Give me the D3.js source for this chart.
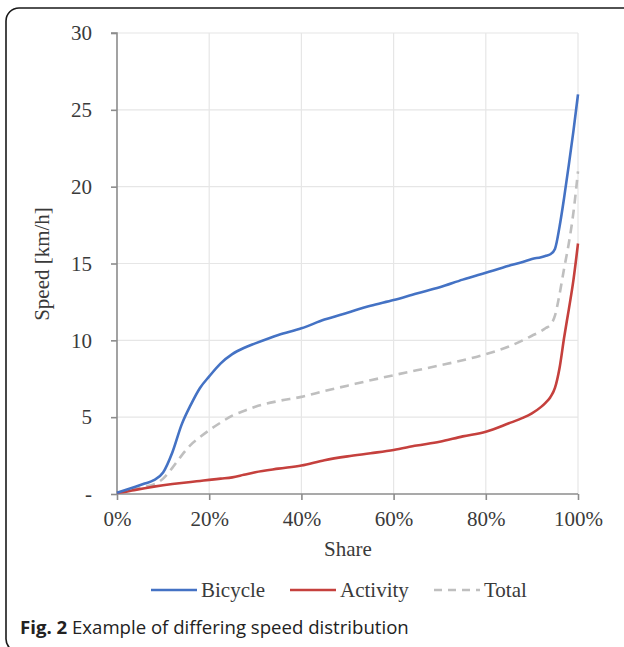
<!DOCTYPE html>
<html>
<head>
<meta charset="utf-8">
<script src="https://cdn.jsdelivr.net/npm/d3@7"></script>
<style>
  body{margin:0;background:#fff}
  svg{display:block}
</style>
</head>
<body>
<svg id="chart" width="624" height="647"></svg>
<script>
// share of trips (%) and speed values
const share    = [0,2,4,6,8,10,12,14,16,18,20,22.5,25,27.5,30,35,40,45,50,55,60,65,70,75,80,85,88,90,92,93,94,95,96,97,98,99,100]
const bicycle  = [0.08,0.27,0.47,0.68,0.9,1.4,2.7,4.5,5.8,6.9,7.65,8.5,9.1,9.5,9.8,10.35,10.78,11.35,11.8,12.25,12.62,13.05,13.45,13.95,14.4,14.85,15.1,15.3,15.41,15.5,15.6,15.95,17.4,19.3,21.4,23.6,26.0]
const activity = [0.08,0.15,0.27,0.38,0.48,0.57,0.65,0.72,0.78,0.85,0.92,1.0,1.08,1.25,1.42,1.65,1.85,2.2,2.45,2.65,2.86,3.15,3.4,3.75,4.05,4.6,4.95,5.25,5.67,5.95,6.3,6.9,8.2,10.2,12.0,13.9,16.3]
const total    = [0.08,0.2,0.32,0.48,0.62,1.0,1.7,2.5,3.2,3.7,4.15,4.65,5.1,5.4,5.68,6.05,6.32,6.7,7.05,7.4,7.73,8.05,8.37,8.7,9.1,9.6,10.0,10.3,10.6,10.8,11.0,11.6,13.0,14.7,16.3,18.3,21.0]
const xTicks = [0,20,40,60,80,100]
const yTicks = [0,5,10,15,20,25,30]

const seriesList = [
  {name:"Bicycle", values:bicycle, color:"#4472c4", dash:null},
  {name:"Activity", values:activity, color:"#c5403d", dash:null},
  {name:"Total", values:total, color:"#bfbfbf", dash:"9,6"}
]

const svg = d3.select("#chart")
const serif = "'Liberation Serif','Times New Roman',serif"
const fs = 21

// outer frame (right side runs off the picture)
svg.append("rect")
  .attr("x",6).attr("y",8).attr("width",640).attr("height",644)
  .attr("rx",13).attr("ry",13)
  .attr("fill","none").attr("stroke","#1a1a1a").attr("stroke-width",1.6)

let x = d3.scaleLinear().domain([0,100]).range([117,578])
let y = d3.scaleLinear().domain([0,30]).range([494,33])

// grid
svg.append("g").selectAll("line").data(yTicks.filter(d=>d>0)).join("line")
  .attr("x1",x(0)).attr("x2",x(100))
  .attr("y1",d=>y(d)).attr("y2",d=>y(d))
  .attr("stroke","#e6e6e6").attr("stroke-width",1.2)
svg.append("g").selectAll("line").data(xTicks.filter(d=>d>0)).join("line")
  .attr("x1",d=>x(d)).attr("x2",d=>x(d))
  .attr("y1",y(0)).attr("y2",y(30))
  .attr("stroke","#e6e6e6").attr("stroke-width",1.2)

// axes
let yAxis = d3.axisLeft(y).tickValues(yTicks).tickSize(6).tickPadding(19)
  .tickFormat(d=>d===0?"-":d)
let gy = svg.append("g").attr("transform",`translate(${x(0)},0)`).call(yAxis)
let xAxis = d3.axisBottom(x).tickValues(xTicks).tickSize(6).tickPadding(11)
  .tickFormat(d=>d+"%")
let gx = svg.append("g").attr("transform",`translate(0,${y(0)})`).call(xAxis)

;[gx,gy].forEach(g=>{
  g.select(".domain").attr("stroke","#8c8c8c").attr("stroke-width",1.6)
  g.selectAll(".tick line").attr("stroke","#8c8c8c").attr("stroke-width",1.6)
  g.selectAll("text").attr("font-family",serif).attr("font-size",fs).attr("fill","#3a3a3a")
})
gy.select(".domain").attr("d",`M-6,${y(30)}H0V${y(0)}`)
gx.select(".domain").attr("d",`M${x(0)},0H${x(100)}`)

// axis titles
svg.append("text").attr("x",348).attr("y",556).attr("text-anchor","middle")
  .attr("font-family",serif).attr("font-size",fs).attr("fill","#3a3a3a").text("Share")
svg.append("text").attr("transform","translate(49,264) rotate(-90)").attr("text-anchor","middle")
  .attr("font-family",serif).attr("font-size",fs).attr("fill","#3a3a3a").text("Speed [km/h]")

// lines
let line = d3.line().curve(d3.curveMonotoneX)
seriesList.slice().reverse().forEach(s=>{
  svg.append("path")
    .datum(share.map((v,i)=>[v,s.values[i]]))
    .attr("d",line.x(d=>x(d[0])).y(d=>y(d[1])))
    .attr("fill","none").attr("stroke",s.color).attr("stroke-width",2.6)
    .attr("stroke-dasharray",s.dash)
})

// legend
let legendX = [151,290,434]
seriesList.forEach((s,i)=>{
  let g = svg.append("g").attr("transform",`translate(${legendX[i]},590)`)
  g.append("line").attr("x1",0).attr("x2",46).attr("y1",0).attr("y2",0)
    .attr("stroke",s.color).attr("stroke-width",2.6).attr("stroke-dasharray",s.dash?"8,6":null)
  g.append("text").attr("x",50).attr("y",7).attr("font-family",serif).attr("font-size",fs)
    .attr("fill","#3a3a3a").text(s.name)
})

// caption
let cap = svg.append("text").attr("x",20).attr("y",634)
  .attr("font-family","'Open Sans','Noto Sans',sans-serif").attr("font-size",18.6).attr("fill","#222")
cap.append("tspan").attr("font-weight","bold").text("Fig. 2")
cap.append("tspan").text(" Example of differing speed distribution")
</script>
</body>
</html>
